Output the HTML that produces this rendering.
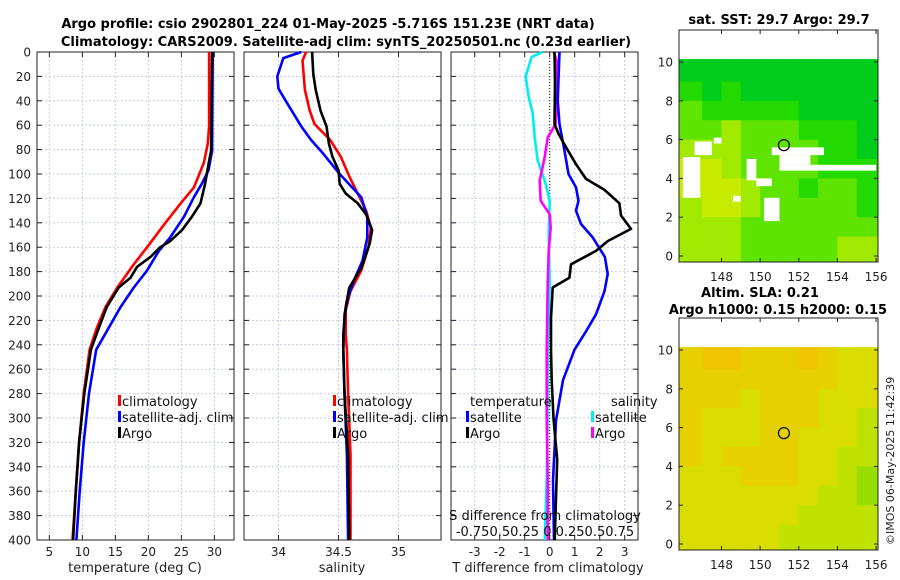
<!DOCTYPE html>
<html><head><meta charset="utf-8"><style>
html,body{margin:0;padding:0;background:#fff;}
svg{display:block;font-family:"DejaVu Sans","Liberation Sans",sans-serif;}
</style></head><body>
<svg id="c" width="900" height="580" xmlns="http://www.w3.org/2000/svg">
<text x="328" y="28" text-anchor="middle" font-size="13" font-weight="bold">Argo profile: csio 2902801_224 01-May-2025 -5.716S 151.23E (NRT data)</text>
<text x="346" y="46" text-anchor="middle" font-size="13" font-weight="bold">Climatology: CARS2009. Satellite-adj clim: synTS_20250501.nc (0.23d earlier)</text>
<text x="779" y="24" text-anchor="middle" font-size="13" font-weight="bold">sat. SST: 29.7 Argo: 29.7</text>
<text x="760" y="297" text-anchor="middle" font-size="13" font-weight="bold">Altim. SLA: 0.21</text>
<text x="778" y="314" text-anchor="middle" font-size="13" font-weight="bold">Argo h1000: 0.15 h2000: 0.15</text>
<text transform="translate(894,545) rotate(-90)" font-size="11" fill="#222">©IMOS 06-May-2025 11:42:39</text>
<g id="g"></g>
</svg>
<script>
// ---- profile data ----
const tDepthC=[0,61,75,91,111,124,142,160,174,193,209,226,244,280,320,360,400];
const tClim=[29.2,29.2,29.0,28.4,26.9,24.9,22.3,19.8,17.8,15.3,13.5,12.2,11.1,10.2,9.5,9.0,8.5];
const tDepthS=[0,81,97,108,119,135,152,163,179,193,209,226,244,280,320,360,400];
const tSat=[29.75,29.65,29.1,28.1,26.9,25.4,23.3,21.6,19.8,17.8,15.8,14.0,12.1,11.0,10.2,9.6,9.1];
const tDepthA=[0,81,92,108,124,135,146,155,160,168,176,185,193,209,226,244,280,320,360,400];
const tArgo=[29.65,29.5,29.1,28.6,27.9,26.6,25.1,23.3,21.8,20.3,18.3,17.3,15.5,13.7,12.5,11.3,10.3,9.5,9.0,8.6];

const sDepthC=[0,7,31,48,59,72,86,102,119,130,144,160,179,196,212,231,244,280,330,400];
const sClim=[34.23,34.20,34.22,34.26,34.30,34.43,34.52,34.59,34.675,34.73,34.77,34.75,34.69,34.60,34.56,34.56,34.57,34.58,34.6,34.6];
const sDepthA=[0,18,31,48,61,75,86,97,108,116,124,133,146,157,177,193,209,231,244,280,330,400];
const sArgo=[34.28,34.29,34.31,34.35,34.40,34.42,34.45,34.50,34.51,34.56,34.66,34.73,34.78,34.76,34.69,34.59,34.56,34.54,34.54,34.55,34.58,34.59];
const sDepthS=[0,5,20,30,40,61,72,83,100,119,135,152,171,187,201,215,244,280,330,400];
const sSat=[34.19,34.04,33.99,34.0,34.06,34.19,34.27,34.37,34.51,34.69,34.74,34.74,34.70,34.63,34.58,34.55,34.54,34.55,34.57,34.58];

const dTDepthA=[0,26,59,67,78,92,104,113,124,134,145,155,163,174,185,193,218,244,269,300,334,400];
const dTArgo=[0.19,0.21,0.19,0.35,0.65,1.05,1.45,2.19,2.79,2.85,3.25,2.32,1.85,0.85,0.79,0.12,0.05,0.05,0.08,0.15,0.3,0.2];
const dTDepthS=[0,40,59,81,100,111,122,130,141,152,168,182,196,215,229,244,269,302,351,400];
const dTSat=[0.39,0.32,0.39,0.59,0.75,1.05,1.15,1.05,1.25,1.72,2.21,2.32,2.19,1.85,1.45,0.99,0.53,0.25,0.13,0.17];
const dSDepthS=[0,4,20,37,50,70,89,108,122,149,190,244,300,350,400];
const dSSat=[-0.07,-0.18,-0.24,-0.21,-0.17,-0.15,-0.12,-0.04,0,-0.01,0,-0.02,-0.02,-0.03,-0.05];
const dSDepthA=[0,7,40,59,70,86,94,105,122,133,144,163,190,244,300,350,400];
const dSArgo=[0.04,0.07,0.07,0.06,-0.02,-0.05,-0.07,-0.1,-0.09,0,0.01,-0.01,-0.02,-0.03,-0.03,-0.02,-0.02];

const depthTicks=[0,20,40,60,80,100,120,140,160,180,200,220,240,260,280,300,320,340,360,380,400];
const tTicks=[5,10,15,20,25,30];
const sTicks=[34,34.5,35];
const sTickLabels=["34","34.5","35"];
const dTicks=[-3,-2,-1,0,1,2,3];

// ---- map data ----
const sstGrid=[
[0,0,0,0,0,0,0,0,0,0],
[1,0,1,0,0,0,0,0,0,0],
[2,1,1,1,1,1,0,0,0,0],
[2,2,3,2,2,2,1,1,1,0],
[3,3,3,2,2,2,2,1,1,0],
[4,4,3,2,2,2,2,1,1,1],
[4,4,4,3,2,2,1,2,2,1],
[3,4,4,3,2,2,2,2,2,1],
[3,3,3,2,2,2,2,2,2,2],
[3,3,3,2,2,2,2,2,3,3]];
const sstGaps=[[146,3,146.9,5.1],[146.6,5.2,147.5,5.9],[147.6,5.8,148,6.1],[149.3,3.9,149.8,5],[149.8,3.6,150.6,4],[150.2,1.8,151,3],[150.6,5.2,153.3,5.6],[151,4.4,156,4.7],[151,4.7,152.6,5.2],[148.6,2.8,149,3.1]];
const sstColors=["#00cc1c","#22d900","#5fe300","#a2e900","#c8ec00"];
const slaGrid=[
[1,0,0,1,1,1,0,1,2,2],
[1,1,1,1,1,1,1,1,2,2],
[1,1,1,2,1,1,1,2,2,2],
[1,2,2,2,1,1,1,2,2,3],
[1,2,2,2,1,1,2,2,2,3],
[1,2,1,1,1,1,2,2,3,3],
[2,2,2,1,1,1,2,2,3,4],
[2,2,2,2,2,2,2,3,3,4],
[2,2,2,2,2,2,3,3,3,3],
[2,2,2,2,2,3,3,3,3,3]];
const slaColors=["#f0c400","#e6d000","#d8dc00","#bfe200","#9ade00"];
const lonTicks=[148,150,152,154,156];
const latTicks=[0,2,4,6,8,10];
const argoLon=151.23, argoLat=5.716;

const NS="http://www.w3.org/2000/svg";
const G=document.getElementById('g');
function mk(tag,attrs,parent){const e=document.createElementNS(NS,tag);for(const k in attrs)e.setAttribute(k,attrs[k]);(parent||G).appendChild(e);return e;}
function txt(x,y,s,size,anchor,name,fill){const t=mk('text',{x:x,y:y,'font-size':size,'text-anchor':anchor||'middle',fill:fill||'#222'});t.textContent=s;


return t;}

const Y0=52,Y1=540;
function yD(d){return Y0+d*(Y1-Y0)/400;}
const panels=[
 {x0:37,x1:234,v0:3.13,v1:32.97,name:'temperature-panel'},
 {x0:244,x1:441,v0:33.7125,v1:35.354,name:'salinity-panel'},
 {x0:451,x1:638,v0:-3.948,v1:3.532,name:'difference-panel'}];
function xs(p,v){return p.x0+(v-p.v0)*(p.x1-p.x0)/(p.v1-p.v0);}

function frame(p,xt,yt){
 const g=mk('g',{});
 
 
 xt.forEach(v=>{const x=xs(p,v);mk('line',{x1:x,x2:x,y1:Y0,y2:Y1,stroke:'#c4cce6','stroke-dasharray':'2,2','stroke-width':1},g);
  mk('line',{x1:x,x2:x,y1:Y0,y2:Y0+5,stroke:'#222'},g);mk('line',{x1:x,x2:x,y1:Y1,y2:Y1-5,stroke:'#222'},g);});
 yt.forEach(d=>{const y=yD(d);mk('line',{x1:p.x0,x2:p.x1,y1:y,y2:y,stroke:'#c4cce6','stroke-dasharray':'2,2','stroke-width':1},g);
  mk('line',{x1:p.x0,x2:p.x0+5,y1:y,y2:y,stroke:'#222'},g);mk('line',{x1:p.x1,x2:p.x1-5,y1:y,y2:y,stroke:'#222'},g);});
 mk('rect',{x:p.x0,y:Y0,width:p.x1-p.x0,height:Y1-Y0,fill:'none',stroke:'#222','stroke-width':1},g);
 return g;}
function series(p,depths,vals,color,name,scale){
 const pts=depths.map((d,i)=>xs(p,vals[i]*(scale||1)).toFixed(1)+','+yD(d).toFixed(1)).join(' ');
 const l=mk('polyline',{points:pts,fill:'none',stroke:color,'stroke-width':2.6,'stroke-linejoin':'round'});
 
 
 return l;}
function legend(x,y,color,label,name){
 const r=mk('rect',{x:x-4,y:y-11,width:3,height:11,fill:color});
 
 
 txt(x,y,label,13,'start',name,'#111');}

// panel 1
const P1=panels[0];
frame(P1,tTicks,depthTicks);
depthTicks.forEach(d=>txt(31,yD(d)+4.5,String(d),12,'end','depth-tick-label'));
tTicks.forEach(v=>txt(xs(P1,v),556,String(v),12,'middle','temp-tick-label'));
txt(135,572,'temperature (deg C)',13,'middle','x-axis-title-temperature');
series(P1,tDepthC,tClim,'#ff0000','temp-climatology-line');
series(P1,tDepthS,tSat,'#0000ff','temp-satellite-line');
series(P1,tDepthA,tArgo,'#000000','temp-argo-line');
legend(122,406,'#ff0000','climatology','legend-climatology');
legend(122,422,'#0000ff','satellite-adj. clim','legend-satellite');
legend(122,438,'#000','Argo','legend-argo');

// panel 2
const P2=panels[1];
frame(P2,sTicks,depthTicks);
sTicks.forEach((v,i)=>txt(xs(P2,v),556,sTickLabels[i],12,'middle','sal-tick-label'));
txt(342,572,'salinity',13,'middle','x-axis-title-salinity');
series(P2,sDepthC,sClim,'#ff0000','sal-climatology-line');
series(P2,sDepthS,sSat,'#0000ff','sal-satellite-line');
series(P2,sDepthA,sArgo,'#000000','sal-argo-line');
legend(337,406,'#ff0000','climatology','legend-climatology-sal');
legend(337,422,'#0000ff','satellite-adj. clim','legend-satellite-sal');
legend(337,438,'#000','Argo','legend-argo-sal');

// panel 3
const P3=panels[2];
frame(P3,dTicks,depthTicks);
mk('line',{x1:xs(P3,0),x2:xs(P3,0),y1:Y0,y2:Y1,stroke:'#553322','stroke-dasharray':'1,2','stroke-width':1.2});
dTicks.forEach(v=>txt(xs(P3,v),556,String(v),12,'middle','tdiff-tick-label'));
txt(548,572,'T difference from climatology',13,'middle','x-axis-title-tdiff');
series(P3,dSDepthS,dSSat,'#00eeee','sdiff-satellite-line',4);
series(P3,dSDepthA,dSArgo,'#ff00ff','sdiff-argo-line',4);
series(P3,dTDepthS,dTSat,'#0000ff','tdiff-satellite-line');
series(P3,dTDepthA,dTArgo,'#000000','tdiff-argo-line');
txt(470,406,'temperature',13,'start','legend-temperature-heading','#111');
txt(611,406,'salinity',13,'start','legend-salinity-heading','#111');
legend(470,422,'#0000ff','satellite','legend-t-satellite');
legend(470,438,'#000','Argo','legend-t-argo');
legend(595,422,'#00eeee','satellite','legend-s-satellite');
legend(595,438,'#ff00ff','Argo','legend-s-argo');
txt(545,520,'S difference from climatology',13,'middle','s-diff-axis-title','#111');
txt(545,536,'-0.750.50.25 0 0.250.50.75',13,'middle','s-diff-tick-labels','#111');

// maps
function map(top,grid,colors,gaps,name,lonLabelY){
 const L=679,R=878,B=top+232;
 const lonA=145.8,lonB=156.1;
 const yTop=top+32, yBot=top+226;
 const lx=v=>L+(v-lonA)*(R-L)/(lonB-lonA);
 const ly=v=>yBot-(v)*(yBot-yTop)/10;
 const g=mk('g',{});
 
 
 const latTop=10.15,latBot=-0.3,lonL=145.8,lonR=156.1;
 const nr=grid.length,nc=grid[0].length;
 for(let r=0;r<nr;r++)for(let c=0;c<nc;c++){
  const la1=r===0?latTop:10-r, la0=r===nr-1?latBot:10-r-1;
  const lo0=c===0?lonL:146+c, lo1=c===nc-1?lonR:146+c+1;
  const cell=mk('rect',{x:lx(lo0),y:ly(la1),width:lx(lo1)-lx(lo0)+0.5,height:ly(la0)-ly(la1)+0.5,fill:colors[grid[r][c]]},g);
  
  
 }
 gaps.forEach(q=>{const w=mk('rect',{x:lx(q[0]),y:ly(q[3]),width:lx(q[2])-lx(q[0]),height:ly(q[1])-ly(q[3]),fill:'#fff'},g);
  
  });
 const c=mk('circle',{cx:lx(argoLon),cy:ly(argoLat),r:5.5,fill:'none',stroke:'#111','stroke-width':1.3},g);
 
 
 mk('rect',{x:L,y:top,width:R-L,height:B-top,fill:'none',stroke:'#222'},g);
 latTicks.forEach(v=>{const y=ly(v);mk('line',{x1:L,x2:L+4,y1:y,y2:y,stroke:'#222'},g);mk('line',{x1:R,x2:R-4,y1:y,y2:y,stroke:'#222'},g);
  txt(673,y+4.5,String(v),12,'end','map-lat-label');});
 lonTicks.forEach(v=>{const x=lx(v);mk('line',{x1:x,x2:x,y1:B,y2:B-4,stroke:'#222'},g);mk('line',{x1:x,x2:x,y1:top,y2:top+4,stroke:'#222'},g);
  txt(x,lonLabelY,String(v),12,'middle','map-lon-label');});
}
map(30,sstGrid,sstColors,sstGaps,'sst-map',281);
map(318,slaGrid,slaColors,[],'sla-map',569);
</script>
</body></html>
